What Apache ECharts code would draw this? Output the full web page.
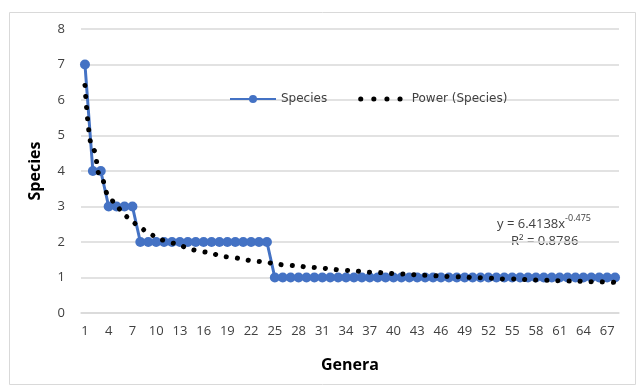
<!DOCTYPE html>
<html>
<head>
<meta charset="utf-8">
<script src="https://cdn.jsdelivr.net/npm/echarts@6/dist/echarts.min.js"></script>
<style>
  html, body { margin: 0; padding: 0; background: #fff; }
  #chart { width: 640px; height: 387px; }
</style>
</head>
<body>
<div id="chart"></div>
<script>
// genera 1..68
const genera = [];
for (let i = 1; i <= 68; i++) genera.push(String(i));

// species count per genus
const species = [
  7, 4, 4, 3, 3, 3, 3,
  2, 2, 2, 2, 2, 2, 2, 2, 2, 2, 2, 2, 2, 2, 2, 2, 2,
  1, 1, 1, 1, 1, 1, 1, 1, 1, 1, 1, 1, 1, 1, 1, 1, 1, 1, 1, 1, 1, 1,
  1, 1, 1, 1, 1, 1, 1, 1, 1, 1, 1, 1, 1, 1, 1, 1, 1, 1, 1, 1, 1, 1
];

// power trendline values as drawn (y = 6.4138x^-0.475)
const powerTrend = [
  6.41, 4.62, 3.81, 3.32, 2.99, 2.74, 2.55, 2.39, 2.26, 2.15,
  2.05, 1.97, 1.90, 1.83, 1.77, 1.72, 1.67, 1.63, 1.58, 1.55,
  1.51, 1.48, 1.45, 1.42, 1.39, 1.36, 1.34, 1.32, 1.30, 1.28,
  1.26, 1.24, 1.22, 1.20, 1.19, 1.17, 1.15, 1.14, 1.13, 1.11,
  1.10, 1.09, 1.07, 1.06, 1.05, 1.04, 1.03, 1.02, 1.01, 1.00,
  0.99, 0.98, 0.97, 0.96, 0.96, 0.95, 0.94, 0.93, 0.92, 0.92,
  0.91, 0.90, 0.90, 0.89, 0.88, 0.88, 0.87, 0.86
];

const font = '"Open Sans", "Noto Sans", sans-serif';

const myChart = echarts.init(document.getElementById('chart'));
myChart.setOption({
  animation: false,
  grid: { left: 81, right: 21, top: 29, bottom: 74 },
  legend: {
    top: 88,
    left: 224,
    itemGap: 31,
    itemWidth: 46,
    itemHeight: 10,
    textStyle: { fontFamily: '"DejaVu Sans", sans-serif', fontSize: 12, color: '#404040' },
    data: [
      { name: 'Species' },
      {
        name: 'Power (Species)',
        itemStyle: { opacity: 0 },
        lineStyle: { width: 5, color: '#000', type: [0.1, 13], cap: 'round' }
      }
    ]
  },
  xAxis: {
    type: 'category',
    data: genera,
    name: 'Genera',
    nameLocation: 'middle',
    nameGap: 44,
    nameTextStyle: { fontFamily: font, fontSize: 16, fontWeight: 'bold', color: '#000' },
    axisLine: { lineStyle: { color: '#d9d9d9', width: 1.5 } },
    axisTick: { show: false },
    axisLabel: { interval: 2, fontFamily: font, fontSize: 13, color: '#404040', margin: 12 }
  },
  yAxis: {
    type: 'value',
    min: 0,
    max: 8,
    interval: 1,
    name: 'Species',
    nameLocation: 'middle',
    nameGap: 38,
    nameTextStyle: { fontFamily: font, fontSize: 16, fontWeight: 'bold', color: '#000' },
    axisLine: { show: false },
    axisTick: { show: false },
    axisLabel: { fontFamily: font, fontSize: 13, color: '#404040', margin: 16 },
    splitLine: { lineStyle: { color: '#d9d9d9', width: 1.5 } }
  },
  series: [
    {
      name: 'Species',
      type: 'line',
      data: species,
      color: '#4472C4',
      symbol: 'circle',
      symbolSize: 10,
      showAllSymbol: true,
      lineStyle: { width: 3, color: '#4472C4' },
      itemStyle: { color: '#4472C4' },
      z: 2
    },
    {
      name: 'Power (Species)',
      type: 'line',
      data: powerTrend,
      color: '#000',
      symbol: 'none',
      smooth: true,
      smoothMonotone: 'x',
      lineStyle: { width: 5, color: '#000', type: [0.1, 11], cap: 'round' },
      z: 3
    }
  ],
  graphic: [
    {
      type: 'rect',
      left: 7, top: 10,
      shape: { width: 626, height: 372 },
      style: { fill: 'none', stroke: '#d9d9d9', lineWidth: 1 },
      silent: true
    },
    {
      type: 'text',
      left: 497, top: 214,
      style: {
        text: '{a|y = 6.4138x}{s|-0.475}',
        rich: {
          a: { fontFamily: font, fontSize: 13, fill: '#404040', verticalAlign: 'bottom', lineHeight: 17 },
          s: { fontFamily: font, fontSize: 9, fill: '#404040', verticalAlign: 'top', lineHeight: 17, padding: [0, 0, 8, 0] }
        }
      }
    },
    {
      type: 'text',
      left: 511, top: 235,
      style: { text: 'R² = 0.8786', fontFamily: font, fontSize: 13, fill: '#404040' }
    }
  ]
});
</script>
</body>
</html>
